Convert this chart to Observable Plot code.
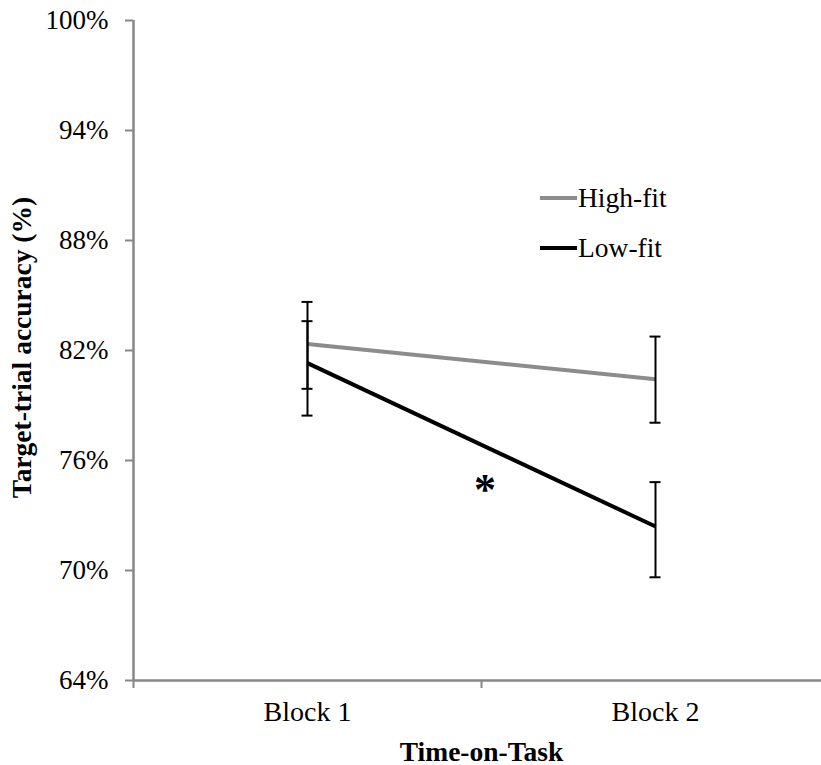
<!DOCTYPE html>
<html>
<head>
<meta charset="utf-8">
<script src="https://cdn.jsdelivr.net/npm/d3@7"></script>
<script src="https://cdn.jsdelivr.net/npm/@observablehq/plot@0.6"></script>
<style>
  html, body { margin: 0; padding: 0; background: #fff; }
  #wrap { position: relative; width: 821px; height: 765px; font-family: "Liberation Serif", "Times New Roman", serif; }
  #legend { position: absolute; left: 540px; top: 173px; font-size: 27.5px; color: #000; }
  #legend .item { display: flex; align-items: center; height: 50px; }
  #legend .sw { width: 37px; height: 4px; margin-right: 1px; }
</style>
</head>
<body>
<div id="wrap"></div>
<script>
// ---- data ----
const blocks = ["Block 1", "Block 2"];
const blockPos = [0.5, 1.5];
const highFit = [82.36, 80.43];
const highLo = [79.91, 78.06];
const highHi = [84.65, 82.76];
const lowFit = [81.31, 72.40];
const lowLo = [78.45, 69.63];
const lowHi = [83.60, 74.82];
const yTicks = [64, 70, 76, 82, 88, 94, 100];
const seriesNames = ["High-fit", "Low-fit"];
const seriesColors = ["#8c8c8c", "#000000"];
const annotations = [{x: 1.01, y: 74.4, text: "*"}];

const rows = [];
blocks.forEach((b, i) => {
  rows.push({series: "High-fit", x: blockPos[i], y: highFit[i], lo: highLo[i], hi: highHi[i]});
  rows.push({series: "Low-fit", x: blockPos[i], y: lowFit[i], lo: lowLo[i], hi: lowHi[i]});
});
const ends = rows.flatMap(d => [{x: d.x, y: d.lo}, {x: d.x, y: d.hi}]);

const axisColor = "#878787";
const chart = Plot.plot({
  width: 821,
  height: 765,
  marginLeft: 133,
  marginTop: 20,
  marginBottom: 85,
  marginRight: 0,
  style: {fontFamily: "'Liberation Serif', 'Times New Roman', serif", fontSize: "27px", background: "#fff", color: "#000"},
  x: {domain: [0, 2], range: [133, 829]},
  y: {domain: [64, 100], range: [680, 20]},
  color: {domain: seriesNames, range: seriesColors},
  marks: [
    Plot.ruleX([0], {y1: 64, y2: 100, stroke: axisColor, strokeWidth: 2.5}),
    Plot.ruleY([64], {stroke: axisColor, strokeWidth: 2.5}),
    Plot.axisY({ticks: yTicks, tickFormat: d => d + "%", tickSize: 8, tickPadding: 17, stroke: axisColor, strokeWidth: 2, label: null, fill: "#000", fontSize: 27}),
    Plot.axisX({ticks: [0, 1, 2], tickSize: 8, tickFormat: () => "", stroke: axisColor, strokeWidth: 2, label: null}),
    Plot.axisX({ticks: blockPos, tickSize: 0, tickPadding: 21, tickFormat: (d, i) => blocks[i], label: null, fill: "#000", fontSize: 28}),
    Plot.text(["Target-trial accuracy (%)"], {frameAnchor: "left", dx: -103, dy: -3, rotate: -90, textAnchor: "middle", lineAnchor: "bottom", fontWeight: "bold", fontSize: 27.5, fill: "#000"}),
    Plot.text(["Time-on-Task"], {frameAnchor: "bottom", dx: 4, dy: 80, lineAnchor: "bottom", fontWeight: "bold", fontSize: 27.5, fill: "#000"}),
    Plot.line(rows, {x: "x", y: "y", z: "series", stroke: "series", strokeWidth: 4, strokeLinecap: "butt"}),
    Plot.ruleX(rows, {x: "x", y1: "lo", y2: "hi", stroke: "#000", strokeWidth: 2}),
    Plot.ruleY(ends, {x1: "x", x2: "x", y: "y", insetLeft: -5.5, insetRight: -5.5, stroke: "#000", strokeWidth: 2}),
    Plot.text(annotations, {x: "x", y: "y", text: "text", fontSize: 44, fontWeight: "bold", fill: "#000"})
  ]
});
const wrap = document.getElementById("wrap");
wrap.appendChild(chart);
const legend = document.createElement("div");
legend.id = "legend";
seriesNames.forEach((n, i) => {
  const it = document.createElement("div");
  it.className = "item";
  const sw = document.createElement("span");
  sw.className = "sw";
  sw.style.background = seriesColors[i];
  const t = document.createElement("span");
  t.textContent = n;
  it.appendChild(sw); it.appendChild(t);
  legend.appendChild(it);
});
wrap.appendChild(legend);
</script>
</body>
</html>
